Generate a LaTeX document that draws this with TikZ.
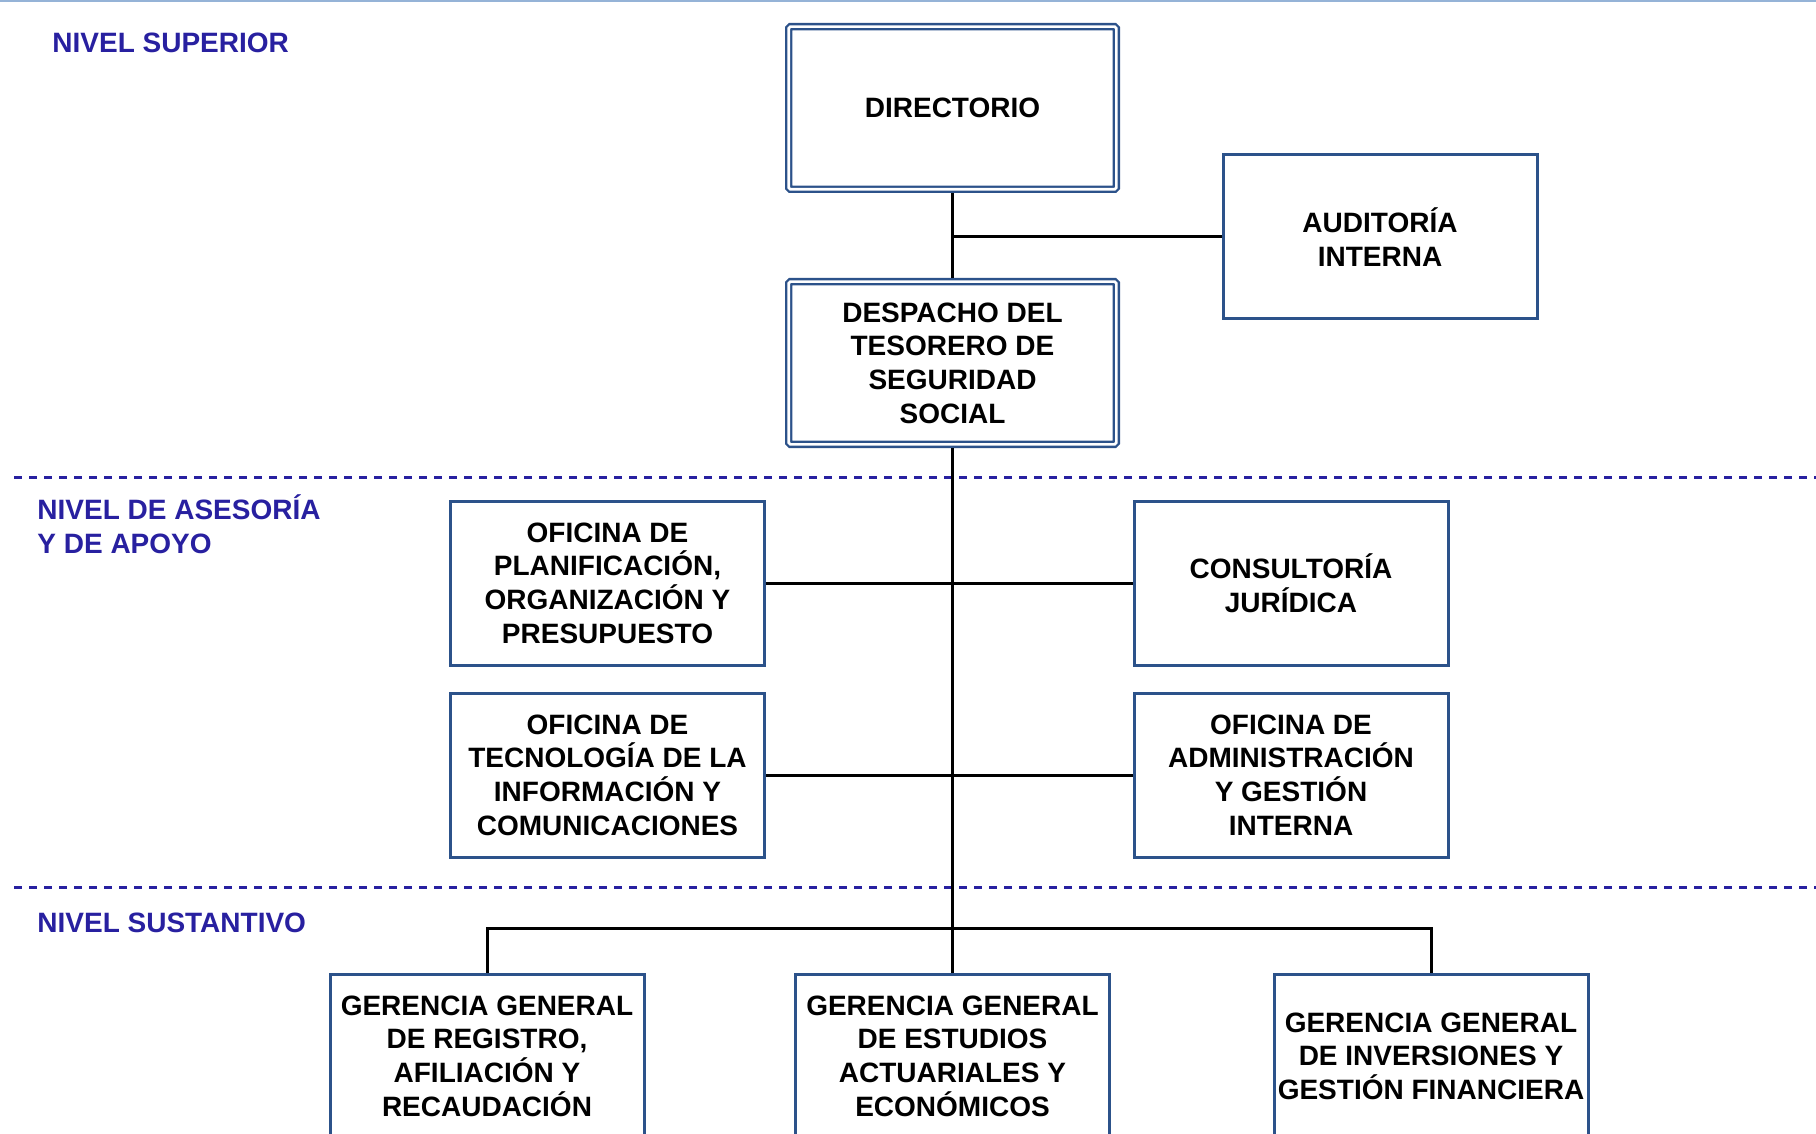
\documentclass[tikz,border=0pt]{standalone}
\usepackage{fontspec}
\setmainfont{Liberation Sans}
\usetikzlibrary{positioning}
\definecolor{boxblue}{RGB}{44,82,138}
\definecolor{levelblue}{RGB}{40,32,160}
\definecolor{rulerblue}{RGB}{149,179,215}

\begin{document}
\begin{tikzpicture}[x=0.5pt,y=-0.5pt,node distance=127.5pt]

  \tikzstyle{unit}=[rectangle,draw=boxblue,line width=1.5pt,
                    minimum width=157pt,minimum height=82pt,
                    inner sep=0pt,align=center,
                    font=\bfseries\fontsize{14}{16.8}\selectfont]
  \tikzstyle{top unit}=[unit,line width=1.2pt,double,double distance=1.3pt,
                        minimum width=163.8pt,minimum height=81.3pt,
                        rounded corners=0.8pt,outer sep=1.85pt]
  \tikzstyle{level}=[text=levelblue,inner sep=0pt,align=left,
                     font=\bfseries\fontsize{14}{16.8}\selectfont]
  \tikzstyle{level line}=[levelblue,line width=1.5pt,dash pattern=on 4pt off 3.5pt]
  \tikzstyle{link}=[black,line width=1.5pt]

  \clip (0,0) rectangle (1816,1134);
  \draw [rulerblue,line width=1pt] (0,1) -- (1816,1);

  % levels
  \node [level,anchor=base west] (sup) at (52,53)  {NIVEL SUPERIOR};
  \node [level,anchor=base west] (ase) at (37,553) {NIVEL DE ASESORÍA\\Y DE APOYO};
  \node [level,anchor=base west] (sus) at (37,932) {NIVEL SUSTANTIVO};
  \draw [level line] (14,477) -- (1816,477);
  \draw [level line] (14,887) -- (1816,887);

  % upper level
  \node [top unit] (dir)  at (952.5,108)   {\raisebox{-2pt}{DIRECTORIO}};
  \node [top unit] (desp) [below of=dir]   {DESPACHO DEL\\TESORERO DE\\SEGURIDAD\\SOCIAL};
  \node [unit]     (aud)  at (1380,237)    {AUDITORÍA\\INTERNA};

  % advisory and support
  \node [unit] (planif)  at (607.5,583) {OFICINA DE\\PLANIFICACIÓN,\\ORGANIZACIÓN Y\\PRESUPUESTO};
  \node [unit] (consult) at (1291,583)  {CONSULTORÍA\\JURÍDICA};
  \node [unit] (tecno)   [below of=planif,node distance=96pt]
                         {OFICINA DE\\TECNOLOGÍA DE LA\\INFORMACIÓN Y\\COMUNICACIONES};
  \node [unit] (admin)   [below of=consult,node distance=96pt]
                         {OFICINA DE\\ADMINISTRACIÓN\\Y GESTIÓN\\INTERNA};

  % substantive level
  \node [unit] (ger2) at (952.5,1056) {GERENCIA GENERAL\\DE ESTUDIOS\\ACTUARIALES Y\\ECONÓMICOS};
  \node [unit] (ger1) [left of=ger2,node distance=232.75pt]
                      {GERENCIA GENERAL\\DE REGISTRO,\\AFILIACIÓN Y\\RECAUDACIÓN};
  \node [unit] (ger3) [right of=ger2,node distance=239.25pt]
                      {GERENCIA GENERAL\\DE INVERSIONES Y\\GESTIÓN FINANCIERA};

  \draw [link] (dir.south)   -- (desp.north);
  \draw [link] (aud.west)    -- (aud.west -| dir.south);
  \draw [link] (desp.south)  -- (ger2.north);
  \draw [link] (planif.east) -- (consult.west);
  \draw [link] (tecno.east)  -- (admin.west);
  \draw [link] (ger1.north)  -- ++(0,-44) -| (ger3.north);
\end{tikzpicture}
\end{document}
